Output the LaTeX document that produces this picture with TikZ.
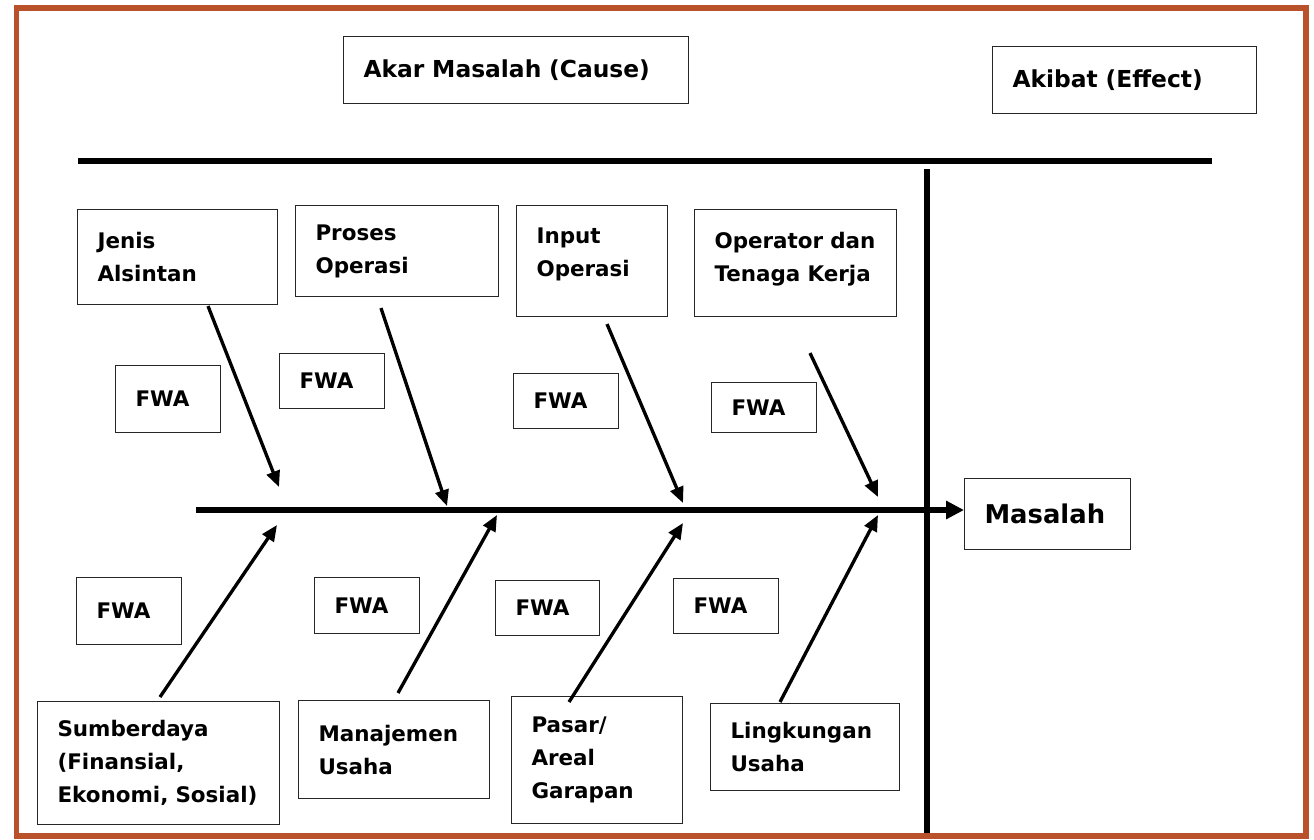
\documentclass[tikz,border=0pt]{standalone}
\usepackage{fontspec}
\setmainfont{DejaVu Sans}
\usetikzlibrary{positioning,arrows.meta,calc}

\definecolor{frameorange}{RGB}{185,82,42}

\begin{document}
\begin{tikzpicture}[
    x=0.2mm, y=-0.2mm,
    font=\fontsize{12.2}{18.8}\selectfont\bfseries,
    box/.style 2 args={draw=black!85, line width=0.6pt, anchor=north west, align=left,
                       inner xsep=4mm, inner ysep=1mm,
                       minimum width=#1, minimum height=#2, text width=#1-8mm},
    head/.style={font=\fontsize{13.3}{18.8}\selectfont\bfseries},
    fwa/.style={box={21mm}{#1}},
    rule/.style={line width=3.4pt},
    spine/.style={line width=3.2pt, -{Triangle[length=3.6mm, width=3.5mm]}},
    bone/.style={line width=1.9pt, -{Triangle[length=3.2mm, width=2.7mm]}},
  ]
  \useasboundingbox (0,0) rectangle (1314,839);

  % ===== outer frame =====
  \draw[frameorange, line width=3.1pt] (16.7,8) rectangle (1306,836);

  % ===== headings =====
  \node[box={69mm}{13.4mm}, head] (cause) at (343,36) {Akar~Masalah~(Cause)};
  \node[box={52.8mm}{13.4mm}, head] (effect) at (992,46) {Akibat~(Effect)};

  \draw[rule] (78,161) -- (1212,161);
  \draw[rule] (927,169) -- (927,833);

  % ===== upper causes =====
  \node[box={40mm}{19mm}] (jenis) at (77,209) {Jenis\\Alsintan};
  \node[box={40.6mm}{18.2mm}] (proses) at (295,205) {Proses\\Operasi};
  \node[box={30.2mm}{22.2mm}] (input) at (516,205) {Input\\Operasi\\[-9pt]\mbox{}};
  \node[box={40.4mm}{21.4mm}] (operator) at (694,209) {Operator~dan\\Tenaga~Kerja\\[-12pt]\mbox{}};

  \node[fwa=13.4mm] (fwaA) at (115,365) {FWA};
  \node[fwa=11mm] (fwaB) at (279,353) {FWA};
  \node[fwa=11mm] (fwaC) at (513,373) {FWA};
  \node[fwa=10mm] (fwaD) at (711,382) {FWA};

  % ===== lower causes =====
  \node[fwa=13.4mm] (fwaE) at (76,577) {FWA};
  \node[fwa=11.2mm] (fwaF) at (314,577) {FWA};
  \node[box={20.8mm}{11mm}] (fwaG) at (495,580) {FWA};
  \node[fwa=11mm] (fwaH) at (673,578) {FWA};

  \node[box={48.4mm}{24.6mm}] (sumber) at (37,701)
    {Sumberdaya\\(Finansial,\\Ekonomi,~Sosial)};
  \node[box={38.2mm}{19.6mm}] (manajemen) at (298,700) {Manajemen\\Usaha};
  \node[box={34.2mm}{25.4mm}] (pasar) at (511,696) {Pasar/\\Areal\\Garapan};
  \node[box={37.8mm}{17.4mm}] (lingkungan) at (710,703) {Lingkungan\\Usaha};

  % ===== effect =====
  \node[box={33.2mm}{14.2mm}, font=\fontsize{14.7}{18.8}\selectfont\bfseries] (masalah)
    at (964,478) {Masalah};

  % ===== bones =====
  \coordinate (tail) at (196,510);
  \draw[spine] (tail) -- (tail -| masalah.west);

  \coordinate (jenisTip) at (279,487);
  \coordinate (prosesTip) at (447,506);
  \coordinate (inputTip) at (683,503);
  \coordinate (operatorTip) at (878,497);
  \coordinate (sumberTip) at (277,525);
  \coordinate (manajemenTip) at (497,515);
  \coordinate (pasarTip) at (683,523);
  \coordinate (lingkunganTip) at (878,515);

  \draw[bone] ($(jenis.south west)+(131,1)$) -- (jenisTip);
  \draw[bone] ($(proses.south west)+(86,11)$) -- (prosesTip);
  \draw[bone] ($(input.south west)+(91,7)$) -- (inputTip);
  \draw[bone] ($(operator.south west)+(116,36)$) -- (operatorTip);
  \draw[bone] ($(sumber.north west)+(123,-4)$) -- (sumberTip);
  \draw[bone] ($(manajemen.north west)+(100,-7)$) -- (manajemenTip);
  \draw[bone] ($(pasar.north west)+(58,6)$) -- (pasarTip);
  \draw[bone] ($(lingkungan.north west)+(70,-1)$) -- (lingkunganTip);

\end{tikzpicture}
\end{document}
